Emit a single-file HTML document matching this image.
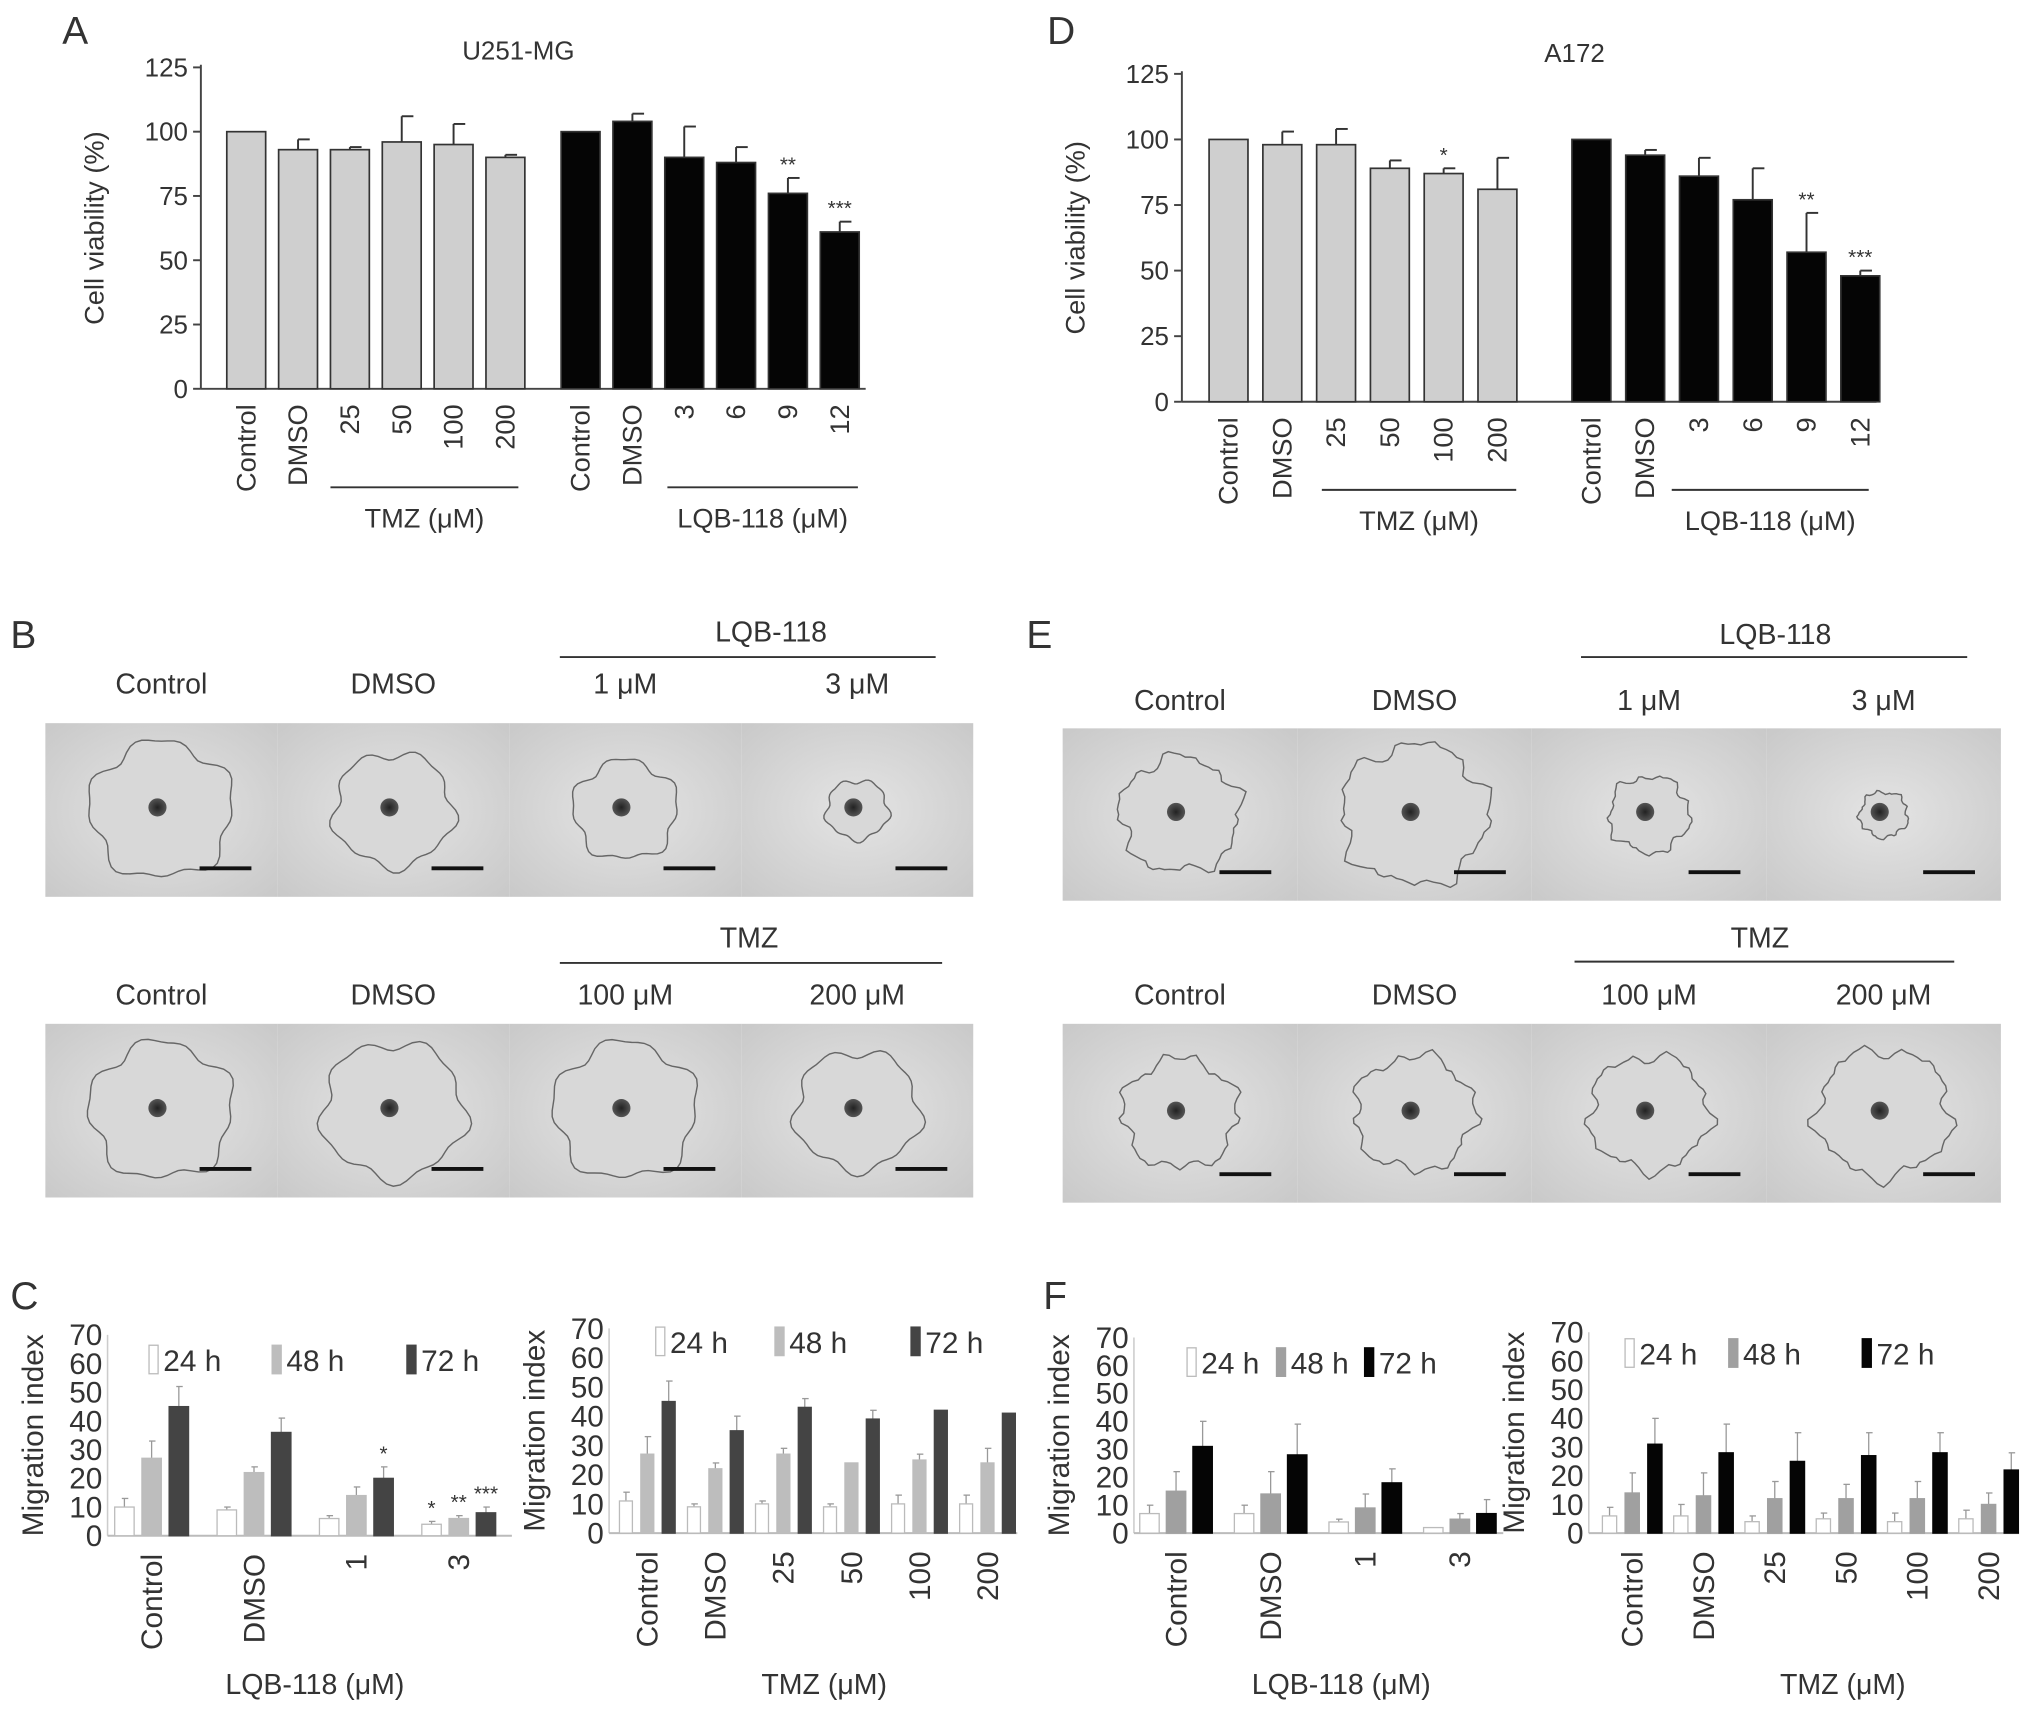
<!DOCTYPE html>
<html><head><meta charset="utf-8"><style>
html,body{margin:0;padding:0;background:#fff}
svg{display:block;font-family:"Liberation Sans",sans-serif}
</style></head><body>
<svg id="fig" xmlns="http://www.w3.org/2000/svg" width="2032" height="1712" viewBox="0 0 1568 1321" preserveAspectRatio="none">
<defs>
<radialGradient id="tileg" cx="50%" cy="50%" r="70%"><stop offset="0" stop-color="#e4e4e4"/><stop offset="1" stop-color="#c9c9c9"/></radialGradient>
<radialGradient id="dotg"><stop offset="0" stop-color="#222"/><stop offset="1" stop-color="#555"/></radialGradient>
</defs>
<g id="root"></g>
</svg>
<script>
// ---- Panel A (U251-MG) data ----
const aCats=['Control','DMSO','25','50','100','200','Control','DMSO','3','6','9','12'];
const aVals=[100,93,93,96,95,90,100,104,90,88,76,61];
const aErr=[0,4,1,10,8,1,0,3,12,6,6,4];
const aStars=['','','','','','','','','','','**','***'];
// ---- Panel D (A172) data ----
const dCats=['Control','DMSO','25','50','100','200','Control','DMSO','3','6','9','12'];
const dVals=[100,98,98,89,87,81,100,94,86,77,57,48];
const dErr=[0,5,6,3,2,12,0,2,7,12,15,2];
const dStars=['','','','','*','','','','','','**','***'];
const vTicks=[0,25,50,75,100,125];
// ---- Panel C data ----
const cLCats=['Control','DMSO','1','3'];
const cL24=[10,9,6,4], cL48=[27,22,14,6], cL72=[45,36,20,8];
const cLe24=[3,1,1,1], cLe48=[6,2,3,1], cLe72=[7,5,4,2];
const cLs24=['','','','*'], cLs48=['','','','**'], cLs72=['','','*','***'];
const cRCats=['Control','DMSO','25','50','100','200'];
const cR24=[11,9,10,9,10,10], cR48=[27,22,27,24,25,24], cR72=[45,35,43,39,42,41];
const cRe24=[3,1,1,1,3,3], cRe48=[6,2,2,0,2,5], cRe72=[7,5,3,3,0,0];
// ---- Panel F data ----
const fLCats=['Control','DMSO','1','3'];
const fL24=[7,7,4,2], fL48=[15,14,9,5], fL72=[31,28,18,7];
const fLe24=[3,3,1,0], fLe48=[7,8,5,2], fLe72=[9,11,5,5];
const fRCats=['Control','DMSO','25','50','100','200'];
const fR24=[6,6,4,5,4,5], fR48=[14,13,12,12,12,10], fR72=[31,28,25,27,28,22];
const fRe24=[3,4,2,2,3,3], fRe48=[7,8,6,5,6,4], fRe72=[9,10,10,8,7,6];
const mTicks=[0,10,20,30,40,50,60,70];

const NS='http://www.w3.org/2000/svg';
const root=document.getElementById('root');
function el(tag,attrs,parent,text){const e=document.createElementNS(NS,tag);for(const k in attrs)e.setAttribute(k,attrs[k]);if(text!==undefined)e.textContent=text;(parent||root).appendChild(e);return e;}
function txt(x,y,s,size,anchor,name,rot,parent){
  const t=el('text',{x:x,y:y,'font-size':size,'text-anchor':anchor||'middle',fill:'#333'},parent,s);
  if(rot)t.setAttribute('transform','rotate(-90 '+x+' '+y+')');
  
  
  return t;
}

// ---------- viability charts ----------
function viability(o){
  const g=el('g',{});
  
  
  const ys=v=>o.y0-(v/125)*(o.y0-o.yTop);
  const xc=i=>i<6?o.x1+i*o.step:o.x2+(i-6)*o.step;
  el('line',{x1:o.ax,y1:o.yTop-2,x2:o.ax,y2:o.y0,stroke:'#444','stroke-width':1.5},g);
  el('line',{x1:o.ax,y1:o.y0,x2:o.axEnd,y2:o.y0,stroke:'#444','stroke-width':1.5},g);
  vTicks.forEach(t=>{
    el('line',{x1:o.ax-6,y1:ys(t),x2:o.ax,y2:ys(t),stroke:'#444','stroke-width':1.5},g);
    txt(o.ax-10,ys(t)+7,String(t),20,'end','y-tick-label',false,g);
  });
  txt(o.ax-75,(o.y0+o.yTop)/2,'Cell viability (%)',21,'middle','y-axis-title',true,g);
  o.vals.forEach((v,i)=>{
    const x=xc(i),w=30;
    const top=ys(v+o.err[i]);
    if(o.err[i]>0){
      el('line',{x1:x,y1:ys(v),x2:x,y2:top,stroke:'#333','stroke-width':1.5},g);
      el('line',{x1:x,y1:top,x2:x+9,y2:top,stroke:'#333','stroke-width':1.5},g);
    }
    const r=el('rect',{x:x-w/2,y:ys(v),width:w,height:o.y0-ys(v),fill:i<6?'#cfcfcf':'#050505',stroke:'#333','stroke-width':1.3},g);
    
    
    if(o.stars[i])txt(x,top-5,o.stars[i],16,'middle','significance-mark',false,g);
    txt(x+7,o.y0+12,o.cats[i],21,'end','x-tick-label',true,g);
  });
  el('line',{x1:o.l1[0],y1:o.ly,x2:o.l1[1],y2:o.ly,stroke:'#333','stroke-width':1.5},g);
  txt((o.l1[0]+o.l1[1])/2,o.ly+31,'TMZ (μM)',21,'middle','tmz-group-label',false,g);
  el('line',{x1:o.l2[0],y1:o.ly,x2:o.l2[1],y2:o.ly,stroke:'#333','stroke-width':1.5},g);
  txt((o.l2[0]+o.l2[1])/2,o.ly+31,'LQB-118 (μM)',21,'middle','lqb-group-label',false,g);
  txt(o.tx,o.ty,o.title,20,'middle','chart-title',false,g);
}
viability({name:'chart-a-u251mg',cats:aCats,vals:aVals,err:aErr,stars:aStars,y0:300,yTop:52,ax:155,axEnd:668,x1:190,x2:448,step:40,ly:376,l1:[255,400],l2:[515,662],tx:400,ty:46,title:'U251-MG'});
viability({name:'chart-d-a172',cats:dCats,vals:dVals,err:dErr,stars:dStars,y0:310,yTop:57,ax:912,axEnd:1448,x1:948,x2:1228,step:41.5,ly:378,l1:[1020,1170],l2:[1290,1442],tx:1215,ty:48,title:'A172'});

// panel letters
[['A',48,34],['D',808,34],['B',8,500],['E',792,500],['C',8,1010],['F',805,1010]].forEach(p=>txt(p[1],p[2],p[0],30,'start','panel-label-'+p[0].toLowerCase()));

// ---------- microscopy tiles ----------
function tile(x,y,w,h,r,spiky,name){
  const g=el('g',{});
  
  
  el('rect',{x:x,y:y,width:w,height:h,fill:'url(#tileg)'},g);
  const cx=x+w/2,cy=y+h/2;let d='';
  const n=72;
  for(let k=0;k<=n;k++){
    const a=k/n*Math.PI*2;
    const rr=r*(1+0.07*Math.sin(a*5+x)+0.05*Math.cos(a*9+y)+(spiky?0.09*Math.max(0,Math.sin(a*13)):0));
    d+=(k?'L':'M')+(cx+rr*Math.cos(a)).toFixed(1)+' '+(cy+rr*0.95*Math.sin(a)).toFixed(1);
  }
  el('path',{d:d+'Z',fill:'#d8d8d8',stroke:'#666','stroke-width':1.1},g);
  el('circle',{cx:cx-3,cy:cy-2,r:7,fill:'url(#dotg)'},g);
  el('line',{x1:x+w-60,y1:y+h-22,x2:x+w-20,y2:y+h-22,stroke:'#111','stroke-width':3},g);
}
function row(x0,y,w,h,radii,spiky,labels,ly,prefix){
  radii.forEach((r,i)=>{
    tile(x0+i*w,y,w,h,r,spiky,prefix+'-image-'+(i+1));
    txt(x0+i*w+w/2,ly,labels[i],22,'middle',prefix+'-label-'+(i+1));
  });
}
row(35,558,179,134,[55,46,40,24],false,['Control','DMSO','1 μM','3 μM'],535,'b-row1');
row(35,790,179,134,[55,55,55,48],false,['Control','DMSO','100 μM','200 μM'],775,'b-row2');
row(820,562,181,133,[45,55,30,18],true,['Control','DMSO','1 μM','3 μM'],548,'e-row1');
row(820,790,181,138,[43,45,45,50],true,['Control','DMSO','100 μM','200 μM'],775,'e-row2');
el('line',{x1:432,y1:507,x2:722,y2:507,stroke:'#333','stroke-width':1.5});
txt(595,495,'LQB-118',22,'middle','b-lqb-header');
el('line',{x1:432,y1:743,x2:727,y2:743,stroke:'#333','stroke-width':1.5});
txt(578,731,'TMZ',22,'middle','b-tmz-header');
el('line',{x1:1220,y1:507,x2:1518,y2:507,stroke:'#333','stroke-width':1.5});
txt(1370,497,'LQB-118',22,'middle','e-lqb-header');
el('line',{x1:1215,y1:742,x2:1508,y2:742,stroke:'#333','stroke-width':1.5});
txt(1358,731,'TMZ',22,'middle','e-tmz-header');

// ---------- migration charts ----------
function migration(o){
  const g=el('g',{});
  
  
  const ys=v=>o.y0-(v/70)*(o.y0-o.yTop);
  el('line',{x1:o.ax,y1:o.yTop,x2:o.ax,y2:o.y0,stroke:'#ccc','stroke-width':1.2},g);
  el('line',{x1:o.ax,y1:o.y0,x2:o.axEnd,y2:o.y0,stroke:'#bbb','stroke-width':1.5},g);
  mTicks.forEach(t=>txt(o.ax-4,ys(t)+8,String(t),23,'end','y-tick-label',false,g));
  txt(o.ax-50,(o.y0+o.yTop)/2,'Migration index',23,'middle','y-axis-title',true,g);
  const series=[[o.v24,o.e24,'#fff',o.s24,'24h'],[o.v48,o.e48,o.c48,o.s48,'48h'],[o.v72,o.e72,o.c72,o.s72,'72h']];
  o.cats.forEach((c,i)=>{
    const gx=o.x1+i*o.gstep;
    series.forEach((s,j)=>{
      const x=gx+j*o.bstep,v=s[0][i],e=s[1][i];
      const top=ys(v+e);
      if(e>0){
        el('line',{x1:x,y1:ys(v),x2:x,y2:top,stroke:'#999','stroke-width':1},g);
        el('line',{x1:x-2,y1:top,x2:x+3,y2:top,stroke:'#999','stroke-width':1},g);
      }
      const r=el('rect',{x:x-o.bw/2,y:ys(v),width:o.bw,height:o.y0-ys(v),fill:s[2],stroke:j===0?'#bbb':s[2],'stroke-width':1},g);
      
      
      if(s[3]&&s[3][i])txt(x,top-5,s[3][i],16,'middle','significance-mark',false,g);
    });
    txt(gx+o.bstep+8,o.y0+14,c,23,'end','x-tick-label',true,g);
  });
  [['24 h','#fff'],['48 h',o.c48],['72 h',o.c72]].forEach((L,k)=>{
    const lx=o.leg[k];
    const lg=el('g',{},g);
    
    
    el('rect',{x:lx,y:o.ly-20,width:7,height:22,fill:L[1],stroke:k===0?'#bbb':L[1]},lg);
    txt(lx+11,o.ly,L[0],23,'start','legend-label',false,lg);
  });
  txt(o.titleX,1307,o.title,22,'middle','x-axis-title',false,g);
}
migration({name:'chart-c-lqb',cats:cLCats,v24:cL24,v48:cL48,v72:cL72,e24:cLe24,e48:cLe48,e72:cLe72,s24:cLs24,s48:cLs48,s72:cLs72,c48:'#bdbdbd',c72:'#444',y0:1185,yTop:1030,ax:83,axEnd:395,x1:96,gstep:79,bstep:21,bw:15,leg:[115,210,314],ly:1058,title:'LQB-118 (μM)',titleX:243});
migration({name:'chart-c-tmz',cats:cRCats,v24:cR24,v48:cR48,v72:cR72,e24:cRe24,e48:cRe48,e72:cRe72,c48:'#bdbdbd',c72:'#444',y0:1183,yTop:1025,ax:470,axEnd:785,x1:483,gstep:52.5,bstep:16.5,bw:10,leg:[506,598,703],ly:1044,title:'TMZ (μM)',titleX:636});
migration({name:'chart-f-lqb',cats:fLCats,v24:fL24,v48:fL48,v72:fL72,e24:fLe24,e48:fLe48,e72:fLe72,c48:'#a0a0a0',c72:'#050505',y0:1183,yTop:1032,ax:875,axEnd:1160,x1:887,gstep:73,bstep:20.5,bw:15,leg:[916,985,1053],ly:1060,title:'LQB-118 (μM)',titleX:1035});
migration({name:'chart-f-tmz',cats:fRCats,v24:fR24,v48:fR48,v72:fR72,e24:fRe24,e48:fRe48,e72:fRe72,c48:'#a0a0a0',c72:'#050505',y0:1183,yTop:1028,ax:1226,axEnd:1558,x1:1242,gstep:55,bstep:17.5,bw:11,leg:[1254,1334,1437],ly:1053,title:'TMZ (μM)',titleX:1422});
</script>
</body></html>
